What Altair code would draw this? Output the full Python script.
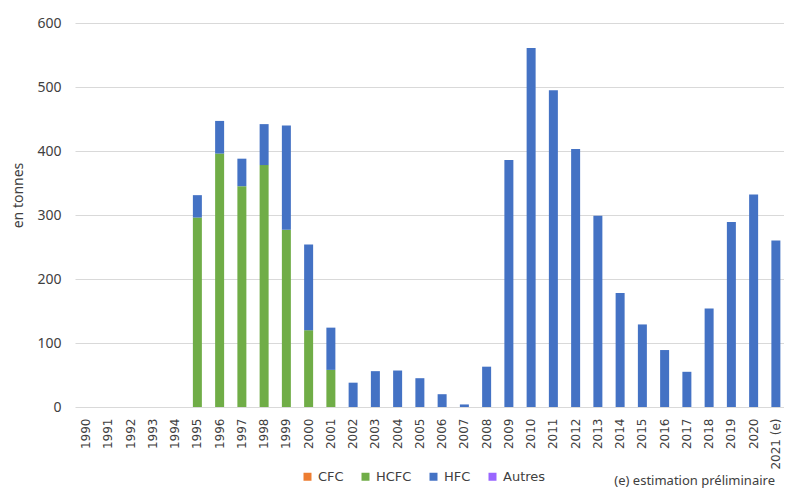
import altair as alt
import pandas as pd

years = ["1990", "1991", "1992", "1993", "1994", "1995", "1996", "1997", "1998", "1999",
         "2000", "2001", "2002", "2003", "2004", "2005", "2006", "2007", "2008", "2009",
         "2010", "2011", "2012", "2013", "2014", "2015", "2016", "2017", "2018", "2019",
         "2020", "2021 (e)"]
cfc = [0] * 32
hcfc = [0, 0, 0, 0, 0, 296, 396, 345, 378, 277, 120, 58,
        0, 0, 0, 0, 0, 0, 0, 0, 0, 0, 0, 0, 0, 0, 0, 0, 0, 0, 0, 0]
hfc = [0, 0, 0, 0, 0, 35, 51, 43, 64, 163, 134, 66,
       38, 56, 57, 45, 20, 4, 63, 386, 561, 495, 403, 299, 178, 129, 89, 55, 154, 289, 332, 260]
autres = [0] * 32
series = ["CFC", "HCFC", "HFC", "Autres"]
colors = ["#ED7D31", "#70AD47", "#4472C4", "#9966FF"]
y_ticks = [0, 100, 200, 300, 400, 500, 600]
note = "(e) estimation préliminaire"

rows = []
for i, yr in enumerate(years):
    for k, (name, vals) in enumerate(zip(series, [cfc, hcfc, hfc, autres])):
        if vals[i] > 0:
            rows.append({"annee": yr, "gaz": name, "ordre": k, "valeur": vals[i]})
df = pd.DataFrame(rows)

FONT = "Noto Sans"
TXT = "#404040"

bars = alt.Chart(df).mark_bar(size=9).encode(
    x=alt.X("annee:N", sort=years, title=None,
            scale=alt.Scale(domain=years, range=[0, 712], paddingInner=0, paddingOuter=0),
            axis=alt.Axis(labelAngle=270, labelAlign="right", labelBaseline="middle",
                          labelPadding=11, ticks=False, domain=False, grid=False,
                          labelFont="DejaVu Sans", labelFontSize=12, labelColor=TXT)),
    y=alt.Y("valeur:Q", stack="zero", title="en tonnes",
            scale=alt.Scale(domain=[0, 600], nice=False),
            axis=alt.Axis(values=y_ticks, ticks=False, domain=False, labelPadding=14,
                          gridColor="#d9d9d9", gridWidth=1,
                          labelFont=FONT, labelFontSize=14, labelColor=TXT,
                          titleFont=FONT, titleFontSize=14, titleFontWeight="normal",
                          titleColor=TXT, titleAngle=270, titleX=-57, titleY=172,
                          titleAlign="center", titleBaseline="middle")),
    color=alt.Color("gaz:N", scale=alt.Scale(domain=series, range=colors),
                    legend=alt.Legend(orient="none", legendX=226, legendY=447,
                                      direction="horizontal", title=None,
                                      symbolType="square", symbolSize=64,
                                      symbolStrokeWidth=0,
                                      labelFont="DejaVu Sans", labelFontSize=13,
                                      labelColor=TXT,
                                      labelOffset=4, columnPadding=15)),
    order=alt.Order("ordre:Q", sort="ascending"),
)

note_df = pd.DataFrame({"t": [note]})
note_mark = alt.Chart(note_df).mark_text(align="right", baseline="middle",
                                          font=FONT, fontSize=13, color=TXT).encode(
    x=alt.value(700), y=alt.value(458), text="t:N")

chart = alt.layer(bars, note_mark).properties(
    width=709, height=384,
    autosize=alt.AutoSizeParams(type="none"),
    padding={"left": 67, "top": 15, "right": 0, "bottom": 84},
).configure_view(stroke=None)

chart.save("out.html", embed_options={"renderer": "svg", "actions": False})
